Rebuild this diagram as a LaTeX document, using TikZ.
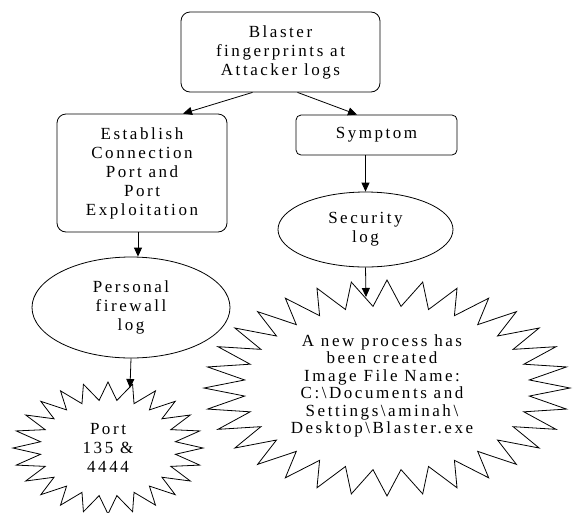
\documentclass[tikz,border=0pt]{standalone}
\usepackage{fontspec}
\setmainfont{Liberation Serif}[LetterSpace=15]
\usetikzlibrary{arrows.meta,shapes.geometric,calc}
\begin{document}
\begin{tikzpicture}[x=1pt,y=-1pt,
  txt/.style={align=center, inner sep=0pt, font=\fontsize{17}{19}\selectfont},
  box/.style={txt, draw, rounded corners=9pt, line width=0.8pt},
  ell/.style={txt, draw, ellipse, line width=0.8pt},
  arr/.style={-{Triangle[length=9pt,width=8pt]}, line width=0.8pt},
  starline/.style={line width=0.8pt, line join=miter}
]
\useasboundingbox (0,0) rectangle (577,512);
\node[box, minimum width=199pt, minimum height=80pt] (top) at (280.5,52) {Blaster\\fingerprints at\\Attacker logs};
\node[box, minimum width=170pt, minimum height=118pt] (est) at (142,173) {Establish\\Connection\\Port and\\Port\\Exploitation};
\node[box, rounded corners=5pt, minimum width=161pt, minimum height=40pt] (sym) at (376.5,135) {Symptom};
\node[ell, minimum width=175pt, minimum height=75pt] (sec) at (365.5,229.5) {Security\\log};
\node[ell, minimum width=198pt, minimum height=101pt] (fw) at (131,307.5) {Personal\\firewall\\log};
\node[txt] (port) at (108,448) {Port\\135 \&\\4444};
\node[txt, font=\fontsize{17}{17.5}\selectfont] (proc) at (382,386) {A new process has\\been created\\Image File Name:\\C:\textbackslash Documents and\\Settings\textbackslash aminah\textbackslash\\Desktop\textbackslash Blaster.exe};
% star outlines
\draw[starline, shift={(108,448)}] plot[samples at={0,...,47}]
  ({((mod(\x,2)==0) ? 95 : 68)*cos(\x*7.5)}, {((mod(\x,2)==0) ? 66 : 48)*sin(\x*7.5)}) -- cycle;
\draw[starline, shift={(387,388)}] plot[samples at={0,...,63}]
  ({((mod(\x,2)==0) ? 183 : 143)*cos(\x*5.625)}, {((mod(\x,2)==0) ? 108 : 82)*sin(\x*5.625)}) -- cycle;
\coordinate (porttop) at (130,388);
\coordinate (proctop) at (366,297);
% connectors
\draw[arr] ($(top.south)+(-28,0)$) -- ($(est.north)+(41,0)$);
\draw[arr] ($(top.south)+(17,0)$) -- ($(sym.north)+(-19.5,0)$);
\draw[arr] ($(est.south)+(-4,0)$) -- ($(fw.north)+(7,0)$);
\draw[arr] ($(sym.south)+(-11,0)$) -- (sec.north);
\draw[arr] (sec.south) -- (proctop);
\draw[arr] (fw.south) -- (porttop);
\end{tikzpicture}
\end{document}
